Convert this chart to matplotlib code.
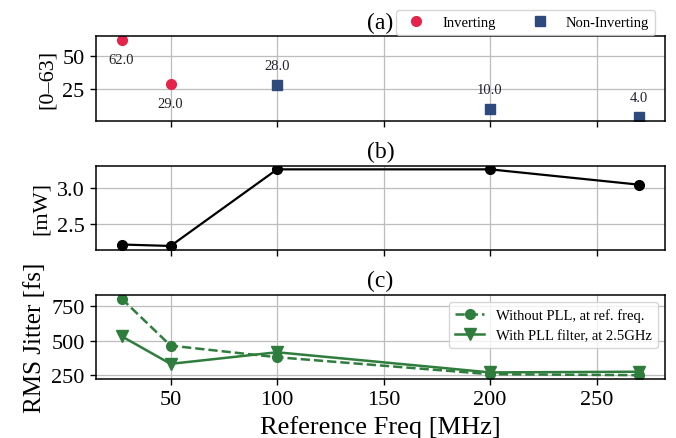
import matplotlib
matplotlib.use("Agg")
import matplotlib.pyplot as plt

plt.rcParams['font.family'] = ['Liberation Serif', 'DejaVu Serif']
plt.rcParams['mathtext.fontset'] = 'stix'

# data
inv_freq = [27, 50]
inv_code = [62.0, 29.0]
noninv_freq = [100, 200, 270]
noninv_code = [28.0, 10.0, 4.0]

freq = [27, 50, 100, 200, 270]
power_mw = [2.22, 2.20, 3.25, 3.25, 3.04]
jitter_no_pll = [805, 464, 380, 257, 250]
jitter_pll = [532, 332, 416, 270, 275]

xticks = [50, 100, 150, 200, 250]

red = '#e4244a'
blue = '#2e4a7d'
green = '#2e7d3c'

fig, axes = plt.subplots(3, 1, figsize=(6.76, 4.39), dpi=100, sharex=True)
fig.subplots_adjust(left=0.1416, right=0.9837, top=0.915, bottom=0.1344, hspace=0.533)

for ax in axes:
    ax.grid(True, color='#bdbdbd', linewidth=0.9)
    ax.set_axisbelow(True)
    for sp in ax.spines.values():
        sp.set_color('black')
        sp.set_linewidth(1.1)
    ax.tick_params(direction='out', length=4.5, width=1, labelsize=16, colors='black')
    ax.set_xticks(xticks)

# (a)
ax = axes[0]
ax.plot(inv_freq, inv_code, 'o', color=red, ms=7, label='Inverting')
ax.plot(noninv_freq, noninv_code, 's', color=blue, ms=6.5, label='Non-Inverting')
for x, y in zip(inv_freq, inv_code):
    ax.annotate(f'{y:.1f}', (x, y), xytext=(0, -14), textcoords='offset points',
                ha='center', va='center', fontsize=10.5, color='#222222')
for x, y in zip(noninv_freq, noninv_code):
    ax.annotate(f'{y:.1f}', (x, y), xytext=(0, 14), textcoords='offset points',
                ha='center', va='center', fontsize=10.5, color='#222233')
ax.set_yticks([25, 50])
ax.set_ylabel('[0–63]', fontsize=16)
ax.set_title('(a)', fontsize=17)
ax.legend(loc='lower right', bbox_to_anchor=(0.985, 1.0), ncol=2, fontsize=10.5,
          borderaxespad=0.1)

# (b)
ax = axes[1]
ax.plot(freq, power_mw, '-o', color='black', lw=1.6, ms=7)
ax.set_yticks([2.5, 3.0])
ax.set_ylabel('[mW]', fontsize=16)
ax.set_title('(b)', fontsize=17)

# (c)
ax = axes[2]
ax.plot(freq, jitter_no_pll, '--o', color=green, lw=1.8, ms=7,
        label='Without PLL, at ref. freq.')
ax.plot(freq, jitter_pll, '-v', color=green, lw=1.8, ms=8,
        label='With PLL filter, at 2.5GHz')
ax.set_yticks([250, 500, 750])
ax.set_ylabel('RMS Jitter [fs]', fontsize=18)
ax.set_xlabel('Reference Freq [MHz]', fontsize=19)
ax.set_title('(c)', fontsize=17)
ax.legend(loc='upper right', fontsize=10.5)

fig.savefig('out.png', dpi=100)
